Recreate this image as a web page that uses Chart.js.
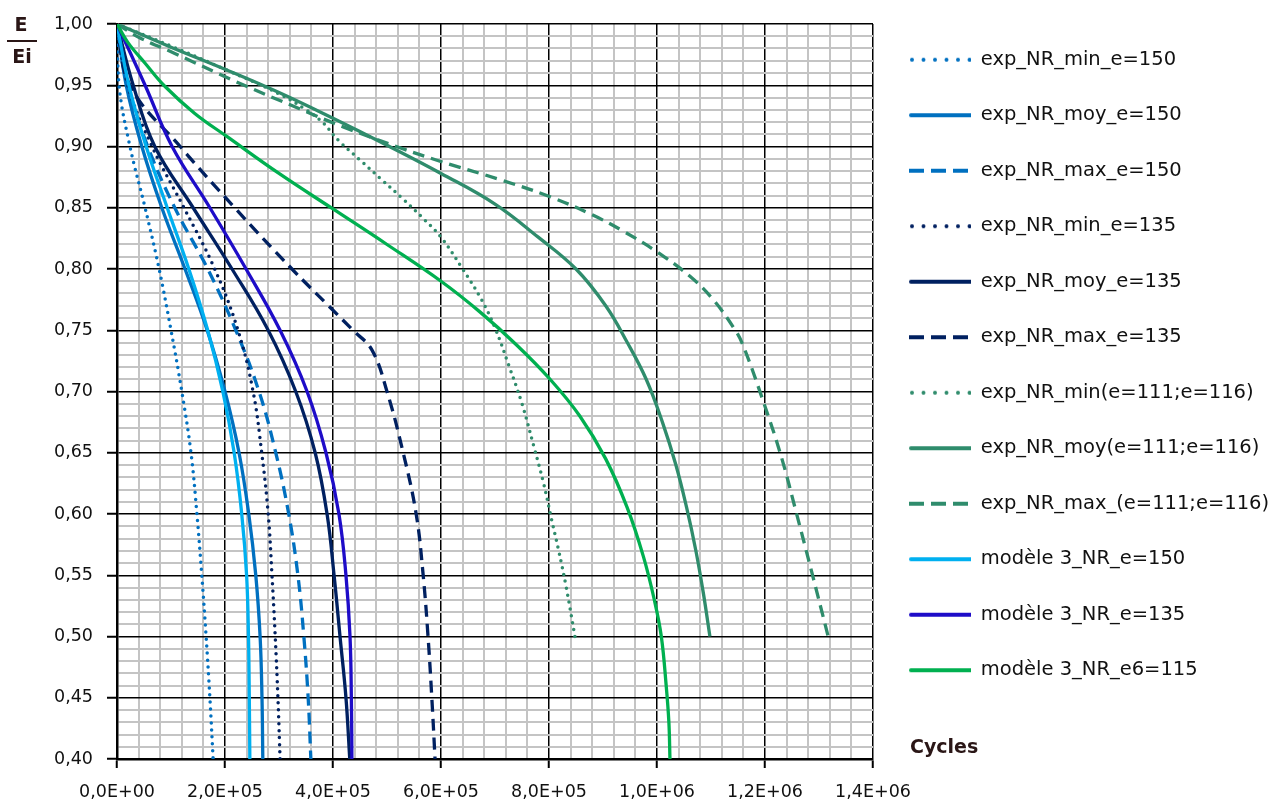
<!DOCTYPE html>
<html>
<head>
<meta charset="utf-8">
<title>E/Ei en fonction des cycles</title>
<script src="https://cdn.jsdelivr.net/npm/chart.js@4.4.1/dist/chart.umd.min.js"></script>
<style>
  html, body { margin: 0; padding: 0; background: #fff; }
  #wrap { position: relative; width: 1272px; height: 804px; }
</style>
</head>
<body>
<div id="wrap"><canvas id="chart"></canvas></div>
<script>
// axes
const xMajor = [0, 200000, 400000, 600000, 800000, 1000000, 1200000, 1400000];
const xTickLabels = ["0,0E+00", "2,0E+05", "4,0E+05", "6,0E+05", "8,0E+05", "1,0E+06", "1,2E+06", "1,4E+06"];
const yMajor = [0.40, 0.45, 0.50, 0.55, 0.60, 0.65, 0.70, 0.75, 0.80, 0.85, 0.90, 0.95, 1.00];
const yTickLabels = ["0,40", "0,45", "0,50", "0,55", "0,60", "0,65", "0,70", "0,75", "0,80", "0,85", "0,90", "0,95", "1,00"];

// series [cycles, E/Ei]
const expMin150 = [[0, 1], [3700, 0.95], [24000, 0.90], [52000, 0.85], [78000, 0.80], [100000, 0.75], [120000, 0.70], [137000, 0.65], [148000, 0.60], [157000, 0.55], [165000, 0.50], [172000, 0.45], [178000, 0.40]];
const expMoy150 = [[0, 1], [17000, 0.95], [46000, 0.90], [83000, 0.85], [126000, 0.80], [167000, 0.75], [200000, 0.70], [226000, 0.65], [244000, 0.60], [257000, 0.55], [265000, 0.50], [268500, 0.45], [270000, 0.40]];
const expMax150 = [[0, 1], [20000, 0.95], [57000, 0.90], [107000, 0.85], [168000, 0.80], [220000, 0.75], [263000, 0.70], [294000, 0.65], [318000, 0.60], [335000, 0.55], [346000, 0.50], [354000, 0.45], [359000, 0.40]];
const expMin135 = [[0, 1], [20000, 0.95], [65000, 0.90], [124000, 0.85], [181000, 0.80], [224000, 0.75], [252000, 0.70], [268000, 0.65], [280000, 0.60], [287000, 0.55], [293000, 0.50], [298000, 0.45], [302000, 0.40]];
const expMoy135 = [[0, 1], [30000, 0.95], [70000, 0.90], [141000, 0.85], [213000, 0.80], [280000, 0.75], [331000, 0.70], [367000, 0.65], [389000, 0.60], [402000, 0.55], [413000, 0.50], [424000, 0.45], [431000, 0.40]];
const expMax135 = [[0, 1], [24000, 0.95], [117000, 0.90], [218000, 0.85], [324000, 0.80], [394000, 0.769], [437000, 0.75], [472000, 0.734], [500000, 0.70], [530000, 0.65], [554000, 0.60], [567000, 0.55], [576000, 0.50], [583000, 0.45], [589000, 0.40]];
const expMin111 = [[0, 1], [100000, 0.982], [200000, 0.963], [300000, 0.943], [350000, 0.93], [380000, 0.92], [410000, 0.905], [450000, 0.889], [490000, 0.873], [530000, 0.857], [570000, 0.84], [600000, 0.826], [640000, 0.80], [675000, 0.775], [700000, 0.752], [725000, 0.722], [750000, 0.69], [772000, 0.655], [790000, 0.625], [805000, 0.595], [818000, 0.57], [832000, 0.54], [848000, 0.50]];
const expMoy111 = [[0, 1], [100000, 0.981], [200000, 0.963], [300000, 0.944], [400000, 0.923], [500000, 0.901], [600000, 0.878], [700000, 0.853], [780000, 0.826], [850000, 0.80], [905000, 0.77], [945000, 0.74], [980000, 0.71], [1010000, 0.675], [1035000, 0.64], [1055000, 0.605], [1072000, 0.57], [1086000, 0.535], [1098000, 0.50]];
const expMax111 = [[0, 1], [41000, 0.989], [107000, 0.976], [220000, 0.953], [326000, 0.933], [419000, 0.916], [524000, 0.899], [598000, 0.888], [709000, 0.873], [802000, 0.859], [881000, 0.844], [937000, 0.831], [1000000, 0.814], [1061000, 0.794], [1104000, 0.775], [1145000, 0.75], [1160000, 0.737], [1196000, 0.693], [1230000, 0.647], [1258000, 0.601], [1284000, 0.557], [1317000, 0.50]];
const modele150 = [[0, 1], [22000, 0.95], [54000, 0.90], [93000, 0.85], [133000, 0.80], [168000, 0.75], [196000, 0.70], [217000, 0.65], [231000, 0.60], [240000, 0.55], [243500, 0.50], [245000, 0.45], [246000, 0.40]];
const modele135 = [[0, 1], [52000, 0.95], [102000, 0.90], [172000, 0.85], [239000, 0.80], [302000, 0.75], [352000, 0.70], [387000, 0.65], [411000, 0.60], [424000, 0.55], [431500, 0.50], [434000, 0.45], [435000, 0.40]];
const modele115 = [[0, 1], [20000, 0.985], [52000, 0.968], [89000, 0.949], [144000, 0.927], [204000, 0.908], [300000, 0.878], [400000, 0.849], [500000, 0.82], [600000, 0.79], [672000, 0.765], [740000, 0.738], [802000, 0.71], [857000, 0.68], [905000, 0.645], [945000, 0.605], [975000, 0.565], [995000, 0.53], [1008000, 0.50], [1017000, 0.46], [1022000, 0.43], [1024000, 0.40]];

const BLUE = "#0070C0", NAVY = "#002060", TEAL = "#2F8C6C";
const CYAN = "#00B0F0", ROYAL = "#1E0CC8", GREEN = "#00B050";

const series = [
    ["exp_NR_min_e=150", expMin150, BLUE, "dot"],
    ["exp_NR_moy_e=150", expMoy150, BLUE, "solid"],
    ["exp_NR_max_e=150", expMax150, BLUE, "dash"],
    ["exp_NR_min_e=135", expMin135, NAVY, "dot"],
    ["exp_NR_moy_e=135", expMoy135, NAVY, "solid"],
    ["exp_NR_max_e=135", expMax135, NAVY, "dash"],
    ["exp_NR_min(e=111;e=116)", expMin111, TEAL, "dot"],
    ["exp_NR_moy(e=111;e=116)", expMoy111, TEAL, "solid"],
    ["exp_NR_max_(e=111;e=116)", expMax111, TEAL, "dash"],
    ["modèle 3_NR_e=150", modele150, CYAN, "solid"],
    ["modèle 3_NR_e=135", modele135, ROYAL, "solid"],
    ["modèle 3_NR_e6=115", modele115, GREEN, "solid"],
];

// minor grid: 5 parts per major step
function withMinor(majors, parts) {
    const out = [];
    for (let i = 0; i < majors.length - 1; i++) {
        const step = (majors[i + 1] - majors[i]) / parts;
        for (let k = 0; k < parts; k++) out.push(majors[i] + k * step);
    }
    out.push(majors[majors.length - 1]);
    return out;
}
const xTicks = withMinor(xMajor, 5);
const yTicks = withMinor(yMajor, 5);

// small line samples for the legend
function legendSample(color, style) {
    const c = document.createElement("canvas");
    c.width = 62;
    c.height = 8;
    const g = c.getContext("2d");
    g.strokeStyle = color;
    g.lineWidth = 4;
    if (style === "dot") {
        g.setLineDash([0, 11.5]);
        g.lineCap = "round";
        g.beginPath(); g.moveTo(3, 4); g.lineTo(62, 4); g.stroke();
    } else if (style === "dash") {
        g.setLineDash([15, 7]);
        g.beginPath(); g.moveTo(0, 4); g.lineTo(62, 4); g.stroke();
    } else {
        g.lineCap = "round";
        g.beginPath(); g.moveTo(2, 4); g.lineTo(62, 4); g.stroke();
    }
    return c;
}
const samples = series.map(s => legendSample(s[2], s[3]));

// later series on top, as in the spreadsheet
const datasets = series.map(([label, pts, color, style], i) => ({
    label: label,
    data: pts.map(p => ({ x: p[0], y: p[1] })),
    order: series.length - i,
    borderColor: color,
    backgroundColor: color,
    borderWidth: style === "dot" ? 3.5 : 3.3,
    borderDash: style === "dot" ? [0, 7] : style === "dash" ? [12, 7] : [],
    borderCapStyle: style === "dot" ? "round" : "butt",
    tension: 0.4,
    pointRadius: 0,
    pointHoverRadius: 0,
    fill: false,
}));

const isMajor = (i) => i % 5 === 0;

function gridFor() {
    return {
        color: c => (c.tick && isMajor(c.index)) ? "#000000" : "#C4C4C4",
        lineWidth: c => (c.tick && isMajor(c.index)) ? 1.5 : 2,
        tickColor: c => (c.tick && isMajor(c.index)) ? "#000000" : "rgba(0,0,0,0)",
        tickWidth: 2,
        tickLength: 9,
    };
}

// axis titles E/Ei and Cycles
const axisTitles = {
    id: "axisTitles",
    afterDraw(chart) {
        const { ctx, chartArea } = chart;
        ctx.save();
        ctx.fillStyle = "#2a1616";
        ctx.font = "bold 19px 'DejaVu Sans'";
        ctx.textAlign = "center";
        ctx.textBaseline = "middle";
        ctx.fillText("E", 21, 26);
        ctx.fillText("Ei", 22, 58);
        ctx.fillRect(7, 40, 30, 2);
        ctx.textAlign = "left";
        ctx.fillText("Cycles", chartArea.right + 37, chartArea.bottom - 11);
        ctx.restore();
    },
};

Chart.defaults.font.family = "'DejaVu Sans'";
Chart.defaults.color = "#111";

new Chart(document.getElementById("chart"), {
    type: "line",
    data: { datasets: datasets },
    options: {
        responsive: true,
        maintainAspectRatio: false,
        animation: false,
        events: [],
        layout: { padding: { top: 14, left: 0, right: 0, bottom: 0 } },
        scales: {
            x: {
                type: "linear",
                min: 0,
                max: 1400000,
                afterBuildTicks: s => { s.ticks = xTicks.map(v => ({ value: v })); },
                afterFit: s => { s.height = 45; },
                ticks: {
                    autoSkip: false,
                    maxRotation: 0,
                    minRotation: 0,
                    padding: 14,
                    font: { size: 17.5 },
                    callback: (v, i) => isMajor(i) ? xTickLabels[i / 5] : "",
                },
                grid: gridFor(),
                border: { display: true, color: "#000", width: 2.5 },
            },
            y: {
                type: "linear",
                min: 0.4,
                max: 1.0,
                afterBuildTicks: s => { s.ticks = yTicks.map(v => ({ value: v })); },
                afterFit: s => { s.width = 117; s.paddingTop = 24; },
                ticks: {
                    autoSkip: false,
                    padding: 14,
                    font: { size: 17.5 },
                    callback: (v, i) => isMajor(i) ? yTickLabels[i / 5] : "",
                },
                grid: Object.assign(gridFor(), { tickLength: 10 }),
                border: { display: true, color: "#000", width: 2.5 },
            },
        },
        plugins: {
            tooltip: { enabled: false },
            legend: {
                position: "right",
                align: "start",
                maxWidth: 399,
                labels: {
                    usePointStyle: true,
                    pointStyleWidth: 62,
                    padding: 36,
                    color: "#111",
                    font: { size: 19.5 },
                    sort: (a, b) => a.datasetIndex - b.datasetIndex,
                    generateLabels(chart) {
                        const items = Chart.defaults.plugins.legend.labels.generateLabels(chart);
                        items.forEach(it => { it.pointStyle = samples[it.datasetIndex]; });
                        return items;
                    },
                },
            },
        },
    },
    plugins: [axisTitles],
});
</script>
</body>
</html>
